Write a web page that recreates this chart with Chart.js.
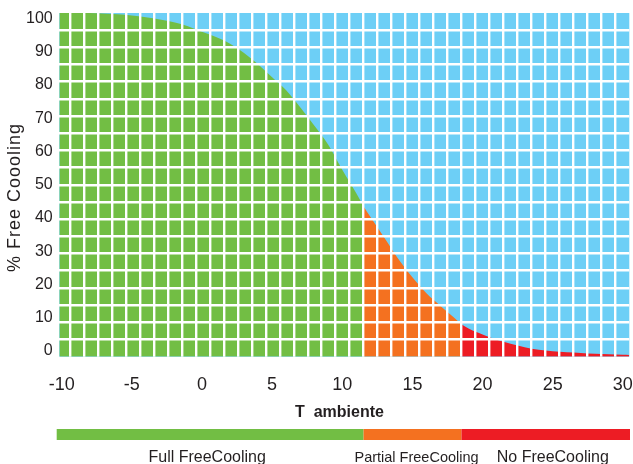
<!DOCTYPE html>
<html><head><meta charset="utf-8">
<script src="https://cdn.jsdelivr.net/npm/chart.js@4.4.1/dist/chart.umd.min.js"></script>
<style>html,body{margin:0;padding:0;background:#fff;overflow:hidden}#c{display:block}</style>
</head><body>
<canvas id="c" width="633" height="464"></canvas>
<script>
// ---- data ----
const xTicks = [-10, -5, 0, 5, 10, 15, 20, 25, 30];
const yTicks = [0, 10, 20, 30, 40, 50, 60, 70, 80, 90, 100];
const tPartial = 11.52;   // start of partial free cooling
const tNone = 18.5;       // start of no free cooling
const tempFull = [-10.17, -8.5, -7.5, -6, -5, -4, -3, -2, -1, 0, 1, 2, 3, 4, 5, 6, 7, 8, 9, 10, 11, 11.52];
const pctFull  = [101.65, 101.65, 101.6, 101.3, 100.9, 100.4, 99.7, 98.9, 97.7, 96.0, 94.4, 92.4, 89.6, 86.2, 82.3, 78.4, 73.3, 67.8, 62.0, 54.5, 47.4, 43.4];
const tempPartial = [11.52, 12, 13, 14, 15, 16, 17, 18, 18.5];
const pctPartial  = [43.4, 40.3, 34.0, 27.6, 22.1, 17.3, 13.5, 9.9, 8.0];
const tempNone = [18.5, 19, 20, 21, 22, 23, 24, 25, 26, 27, 28, 29, 30, 30.46];
const pctNone  = [8.0, 6.7, 4.9, 3.3, 2.1, 1.1, 0.3, -0.15, -0.45, -0.65, -0.9, -1.05, -1.2, -1.25];
const zoneLabels = ['Full FreeCooling', 'Partial FreeCooling', 'No FreeCooling'];
const xTitle = 'T  ambiente';
const yTitle = '% Free Coooling';

// ---- styles ----
const GREEN = '#72BE44', ORANGE = '#F47120', RED = '#ED1C24', BLUE = '#6DCFF6', TEXT = '#231F20';
const FONT = '"Liberation Sans", Arial, Helvetica, sans-serif';

const pts = (xs, ys) => xs.map((x, i) => ({x, y: ys[i]}));
const area = (data, color) => ({
  data, fill: 'start', backgroundColor: color, borderWidth: 0, borderColor: color,
  pointRadius: 0, tension: 0.4, cubicInterpolationMode: 'monotone'
});
const noPad = s => { s.paddingLeft = 0; s.paddingRight = 0; s.paddingTop = 0; s.paddingBottom = 0; };

const bgPlugin = {
  id: 'bg',
  beforeDatasetsDraw(chart) {
    const {ctx, chartArea: a} = chart;
    ctx.save(); ctx.fillStyle = BLUE;
    ctx.fillRect(a.left, a.top, a.right - a.left, a.bottom - a.top);
    ctx.restore();
  }
};

const decoPlugin = {
  id: 'deco',
  afterDraw(chart) {
    const {ctx, chartArea: a} = chart;
    const xs = chart.scales.x;
    const b0 = a.left - 2.6, b1 = xs.getPixelForValue(tPartial), b2 = xs.getPixelForValue(tNone), b3 = a.right + 0.7;
    ctx.save();
    // zone bar
    ctx.fillStyle = GREEN; ctx.fillRect(b0, 429, b1 - b0, 11);
    ctx.fillStyle = ORANGE; ctx.fillRect(b1, 429, b2 - b1, 11);
    ctx.fillStyle = RED; ctx.fillRect(b2, 429, b3 - b2, 11);
    // zone labels
    ctx.fillStyle = TEXT; ctx.textAlign = 'center'; ctx.textBaseline = 'alphabetic';
    const centers = [(b0 + b1) / 2 - 3, (b1 + b2) / 2 + 4, (b2 + b3) / 2 + 7];
    const sizes = [16, 14.5, 16];
    zoneLabels.forEach((t, i) => {
      ctx.font = sizes[i] + 'px ' + FONT;
      ctx.fillText(t, centers[i], 461.5);
    });
    // x title
    ctx.font = 'bold 16px ' + FONT;
    ctx.fillText(xTitle, 339.5, 417);
    // y title
    ctx.translate(15, 197.5); ctx.rotate(-Math.PI / 2);
    ctx.font = '18px ' + FONT; ctx.textBaseline = 'middle';
    try { ctx.letterSpacing = '1px'; } catch (e) {}
    ctx.fillText(yTitle, 0, 0);
    ctx.restore();
  }
};

new Chart(document.getElementById('c'), {
  type: 'line',
  data: {
    datasets: [
      area(pts(tempFull, pctFull), GREEN),
      area(pts(tempPartial, pctPartial), ORANGE),
      area(pts(tempNone, pctNone), RED)
    ]
  },
  options: {
    responsive: false, animation: false, devicePixelRatio: 1,
    layout: {padding: {top: 13, right: 3.7, left: 0, bottom: 0}},
    plugins: {legend: {display: false}, tooltip: {enabled: false}},
    scales: {
      x: {
        type: 'linear', position: 'bottom', min: -10.17, max: 30.46,
        afterBuildTicks: s => { s.ticks = xTicks.map(v => ({value: v})); },
        afterFit: s => { s.height = 107.3; noPad(s); },
        grid: {display: false, drawTicks: false}, border: {display: false},
        ticks: {color: TEXT, font: {family: FONT, size: 18}, padding: 18, maxRotation: 0, autoSkip: false}
      },
      y: {
        type: 'linear', position: 'left', min: -1.78, max: 101.65,
        afterBuildTicks: s => { s.ticks = yTicks.map(v => ({value: v})); },
        afterFit: s => { s.width = 59.3; noPad(s); },
        grid: {display: false, drawTicks: false}, border: {display: false},
        ticks: {color: TEXT, font: {family: FONT, size: 16}, padding: 6.6}
      },
      xg: {
        type: 'linear', position: 'top', min: -0.765, max: 40,
        afterBuildTicks: s => { const t = []; for (let k = 0; k < 40; k++) t.push({value: k}); s.ticks = t; },
        afterFit: s => { s.height = 0; noPad(s); },
        grid: {display: true, color: '#FFFFFF', lineWidth: 2.4, drawTicks: false, z: 1},
        border: {display: false}, ticks: {display: false}
      },
      yg: {
        type: 'linear', position: 'left', min: 0, max: 20,
        afterBuildTicks: s => { const t = []; for (let k = 1; k < 20; k++) t.push({value: k}); s.ticks = t; },
        afterFit: s => { s.width = 0; noPad(s); },
        grid: {display: true, color: '#FFFFFF', lineWidth: 2.6, drawTicks: false, z: 1},
        border: {display: false}, ticks: {display: false}
      }
    }
  },
  plugins: [bgPlugin, decoPlugin]
});
</script>
</body></html>
